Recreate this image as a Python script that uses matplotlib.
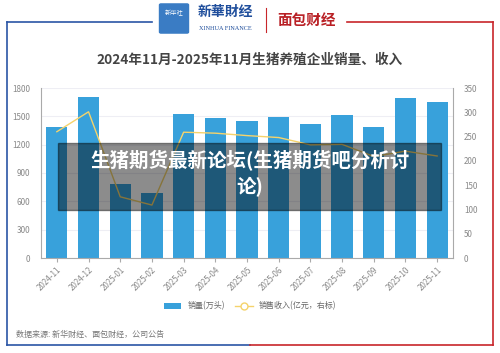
import matplotlib.pyplot as plt
import matplotlib.patches as patches
import numpy as np

plt.rcParams['font.family'] = ['Noto Sans CJK SC', 'DejaVu Sans']

months = ['2024-11', '2024-12', '2025-01', '2025-02', '2025-03', '2025-04', '2025-05',
          '2025-06', '2025-07', '2025-08', '2025-09', '2025-10', '2025-11']
sales_volume = [1390, 1705, 780, 685, 1522, 1480, 1448, 1490, 1416, 1515, 1384, 1695, 1649]
revenue = [260, 301, 126, 109, 259, 257, 252, 248, 233, 234, 209, 220, 210]

fig = plt.figure(figsize=(5, 3.53), dpi=100)
W, H = 500, 353

def fx(px):
    return px / W

def fy(py):
    return 1 - py / H

# frame lines
blue = '#2a55a5'
red = '#c8262b'
fig.add_artist(plt.Line2D([fx(7), fx(7)], [fy(22), fy(345)], color=blue, lw=1.2))
fig.add_artist(plt.Line2D([fx(7), fx(250)], [fy(345), fy(345)], color=blue, lw=1.2))
fig.add_artist(plt.Line2D([fx(250), fx(493)], [fy(345), fy(345)], color=red, lw=1.2))
fig.add_artist(plt.Line2D([fx(7), fx(152)], [fy(22), fy(22)], color=blue, lw=1.2))
fig.add_artist(plt.Line2D([fx(347), fx(493)], [fy(22), fy(22)], color=red, lw=1.2))
fig.add_artist(plt.Line2D([fx(493), fx(493)], [fy(22), fy(345)], color=red, lw=1.2))

# logos
fig.add_artist(patches.FancyBboxPatch((fx(161), fy(32)), fx(26), 27 / H,
                                      boxstyle='round,pad=0.003', color='#3a7cc4',
                                      transform=fig.transFigure))
fig.text(fx(174), fy(13), '新华社', color='white', fontsize=4.5, ha='center', va='center')
fig.text(fx(225), fy(12), '新華財经', color='#1f4e9c', fontsize=10, ha='center', va='center',
         fontweight='bold', style='italic')
fig.text(fx(225), fy(28), 'XINHUA FINANCE', color='#1f4e9c', fontsize=4.5, ha='center',
         va='center', family='Liberation Serif')
fig.add_artist(plt.Line2D([fx(266), fx(266)], [fy(8), fy(32)], color=red, lw=0.8))
fig.text(fx(307), fy(20), '面包财经', color='#b92025', fontsize=10.5, ha='center',
         va='center', fontweight='bold')

# title
fig.text(0.5, fy(60), '2024年11月-2025年11月生猪养殖企业销量、收入', ha='center', va='center',
         fontsize=9.8, fontweight='bold', color='#444444')

ax = fig.add_axes([fx(41), fy(258), fx(453) - fx(41), (258 - 88) / H])
x = np.arange(len(months))
bars = ax.bar(x, sales_volume, width=0.67, color='#38a1db', zorder=2, label='销量(万头)')
ax.set_ylim(0, 1800)
ax.set_yticks(range(0, 1801, 300))
ax.set_xlim(-0.5, len(months) - 0.5)
ax.set_xticks(x)
ax.set_xticklabels(months, rotation=45, ha='right', rotation_mode='anchor',
                   fontsize=5.8, color='#888888')
ax.tick_params(axis='y', labelsize=5.8, colors='#888888', length=0, pad=8)
ax.tick_params(axis='x', length=3, color='#aaaaaa', pad=2)
ax.grid(axis='y', color='#eeeef4', lw=0.8, zorder=0)
for s in ['top', 'right']:
    ax.spines[s].set_visible(False)
ax.spines['left'].set_color('#aaaaaa')
ax.spines['bottom'].set_color('#aaaaaa')

ax2 = ax.twinx()
line, = ax2.plot(x, revenue, color='#f5d36b', lw=1.0, zorder=3,
                 marker='o', markersize=0, label='销售收入(亿元，右标)')
ax2.set_ylim(0, 350)
ax2.set_yticks(range(0, 351, 50))
ax2.tick_params(axis='y', labelsize=5.8, colors='#888888', length=0, pad=8)
for s in ['top', 'left', 'bottom']:
    ax2.spines[s].set_visible(False)
ax2.spines['right'].set_color('#aaaaaa')

# legend
legend_line = plt.Line2D([], [], color='#f5d36b', lw=1.0, marker='o', markersize=5,
                         markerfacecolor='white', markeredgecolor='#f5d36b')
fig.legend([bars, legend_line], ['销量(万头)', '销售收入(亿元，右标)'], loc='center',
           bbox_to_anchor=(0.5, fy(306)), ncol=2, frameon=False, fontsize=5.8,
           labelcolor='#666666', handlelength=2.2, columnspacing=1.2)

# source
fig.text(fx(16), fy(334), '数据来源: 新华财经、面包财经，公司公告', fontsize=5.8,
         color='#777777', va='center')

# overlay banner
fig.add_artist(patches.Rectangle((fx(58), fy(210)), fx(441) - fx(58), (210 - 143) / H,
                                 color='black', alpha=0.45, transform=fig.transFigure,
                                 zorder=10))
fig.text(0.5, fy(161), '生猪期货最新论坛(生猪期货吧分析讨', ha='center', va='center',
         fontsize=14, fontweight='bold', color='white', zorder=11)
fig.text(0.5, fy(187), '论)', ha='center', va='center',
         fontsize=14, fontweight='bold', color='white', zorder=11)

fig.savefig('out.png', dpi=100)
